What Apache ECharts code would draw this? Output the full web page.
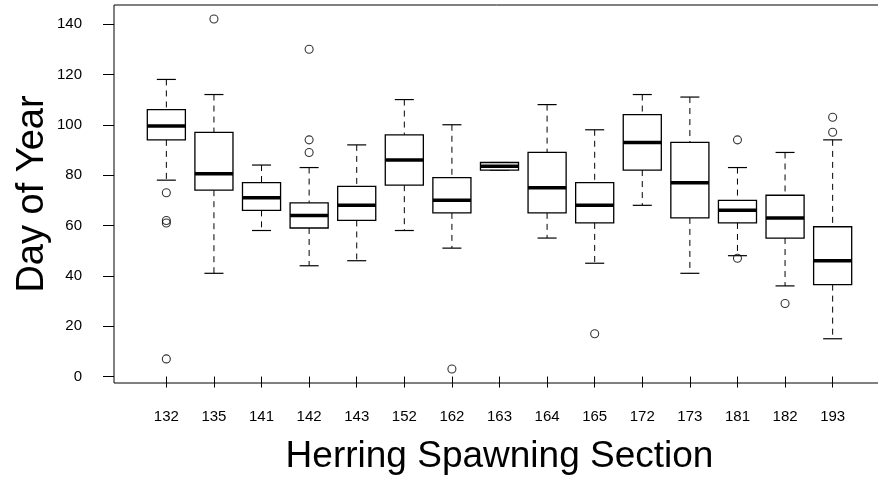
<!DOCTYPE html>
<html>
<head>
<meta charset="utf-8">
<script src="https://cdn.jsdelivr.net/npm/echarts@6/dist/echarts.min.js"></script>
<style>
  html, body { margin: 0; padding: 0; background: #fff; }
  #chart { width: 878px; height: 482px; }
</style>
</head>
<body>
<div id="chart"></div>
<script>
const categories = ['132', '135', '141', '142', '143', '152', '162', '163', '164', '165', '172', '173', '181', '182', '193'];
const whiskerLow = [78, 41, 58, 44, 46, 58, 51, 82, 55, 45, 68, 41, 48, 36, 15];
const lowerQuartile = [94, 74, 66, 59, 62, 76, 65, 82, 65, 61, 82, 63, 61, 55, 36.5];
const median = [99.5, 80.5, 71, 64, 68, 86, 70, 83.5, 75, 68, 93, 77, 66, 63, 46];
const upperQuartile = [106, 97, 77, 69, 75.5, 96, 79, 85, 89, 77, 104, 93, 70, 72, 59.5];
const whiskerHigh = [118, 112, 84, 83, 92, 110, 100, 85, 108, 98, 112, 111, 83, 89, 94];
const outliers = [
  ['132', 73], ['132', 62], ['132', 61], ['132', 7],
  ['135', 142],
  ['142', 130], ['142', 94], ['142', 89],
  ['162', 3],
  ['165', 17],
  ['181', 94], ['181', 47],
  ['182', 29],
  ['193', 103], ['193', 97],
];
const yTicks = { min: 0, max: 140, step: 20 };

const fontFamily = '"Liberation Sans", Arial, sans-serif';

function buildChart() {
  const chart = echarts.init(document.getElementById('chart'), null, { renderer: 'canvas' });

  const boxData = categories.map((c, i) => [
    i, whiskerLow[i], lowerQuartile[i], median[i], upperQuartile[i], whiskerHigh[i],
  ]);

  function renderBox(params, api) {
    const i = api.value(0);
    const x = api.coord([i, 0])[0];
    const band = api.size([1, 0])[0];
    const half = band * 0.4;
    const cap = band * 0.2;
    const lo = api.coord([i, api.value(1)])[1];
    const q1 = api.coord([i, api.value(2)])[1];
    const md = api.coord([i, api.value(3)])[1];
    const q3 = api.coord([i, api.value(4)])[1];
    const hi = api.coord([i, api.value(5)])[1];
    const dashed = { stroke: '#000', lineWidth: 1, lineDash: [6, 5] };
    const solid = { stroke: '#000', lineWidth: 1.2 };
    return {
      type: 'group',
      children: [
        { type: 'line', shape: { x1: x, y1: hi, x2: x, y2: q3 }, style: dashed },
        { type: 'line', shape: { x1: x, y1: q1, x2: x, y2: lo }, style: dashed },
        { type: 'line', shape: { x1: x - cap, y1: hi, x2: x + cap, y2: hi }, style: solid },
        { type: 'line', shape: { x1: x - cap, y1: lo, x2: x + cap, y2: lo }, style: solid },
        {
          type: 'rect',
          shape: { x: x - half, y: q3, width: half * 2, height: q1 - q3 },
          style: { fill: '#fff', stroke: '#000', lineWidth: 1.3 },
        },
        {
          type: 'line',
          shape: { x1: x - half, y1: md, x2: x + half, y2: md },
          style: { stroke: '#000', lineWidth: 3.5 },
        },
      ],
    };
  }

  const option = {
    backgroundColor: '#fff',
    animation: false,
    grid: [
      // data area, 0..140 and the 15 sections
      { left: 142.55, width: 713.9, top: 24.04, height: 352.5, outerBoundsMode: 'none', containLabel: false },
      // R plot frame, slightly wider than the data range (right edge falls off the picture)
      {
        left: 114, width: 771, top: 5, height: 378,
        outerBoundsMode: 'none', containLabel: false,
        show: true, borderColor: '#000', borderWidth: 1, backgroundColor: 'transparent',
      },
    ],
    xAxis: [
      {
        gridIndex: 0,
        type: 'category',
        data: categories,
        boundaryGap: true,
        offset: 6.4,
        axisLine: { show: false },
        axisTick: { show: true, alignWithLabel: true, length: 11, lineStyle: { color: '#000', width: 1 } },
        axisLabel: { color: '#000', fontSize: 15, fontFamily: fontFamily, margin: 26 },
        splitLine: { show: false },
      },
      {
        gridIndex: 1,
        type: 'value',
        min: 0,
        max: 1,
        name: 'Herring Spawning Section',
        nameLocation: 'middle',
        nameGap: 55,
        nameTextStyle: { color: '#000', fontSize: 37, fontFamily: fontFamily },
        axisLine: { show: false },
        axisTick: { show: false },
        axisLabel: { show: false },
        splitLine: { show: false },
      },
    ],
    yAxis: [
      {
        gridIndex: 0,
        type: 'value',
        min: yTicks.min,
        max: yTicks.max,
        interval: yTicks.step,
        offset: 28.55,
        axisLine: { show: false },
        axisTick: { show: true, length: 11, lineStyle: { color: '#000', width: 1 } },
        axisLabel: { color: '#000', fontSize: 15, fontFamily: fontFamily, margin: 32 },
        splitLine: { show: false },
      },
      {
        gridIndex: 1,
        type: 'value',
        min: 0,
        max: 1,
        name: 'Day of Year',
        nameLocation: 'middle',
        nameGap: 62,
        nameTextStyle: { color: '#000', fontSize: 38, fontFamily: fontFamily },
        axisLine: { show: false },
        axisTick: { show: false },
        axisLabel: { show: false },
        splitLine: { show: false },
      },
    ],
    series: [
      {
        name: 'boxes',
        type: 'custom',
        xAxisIndex: 0,
        yAxisIndex: 0,
        clip: false,
        data: boxData,
        renderItem: renderBox,
      },
      {
        name: 'outliers',
        type: 'scatter',
        xAxisIndex: 0,
        yAxisIndex: 0,
        clip: false,
        symbol: 'circle',
        symbolSize: 8,
        itemStyle: { color: 'rgba(0,0,0,0)', borderColor: '#000', borderWidth: 1.1 },
        data: outliers,
        z: 5,
      },
    ],
  };

  chart.setOption(option);
  return chart;
}

buildChart();
</script>
</body>
</html>
